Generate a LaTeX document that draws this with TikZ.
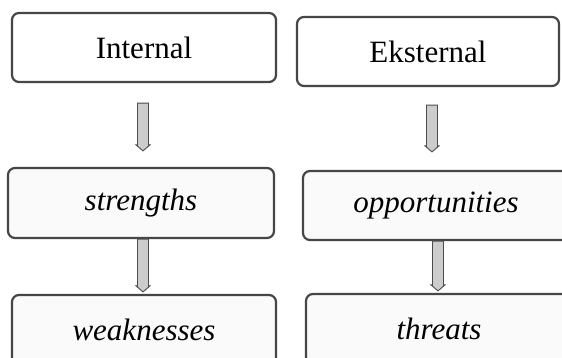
\documentclass[tikz,border=0pt]{standalone}
\usepackage{fontspec}
\setmainfont{Liberation Serif}
\usetikzlibrary{calc}

\tikzset{
  box/.style={draw=gray!55!black, line width=2.2pt, rounded corners=7pt, fill=white,
    font=\fontsize{31}{36}\selectfont, inner sep=0pt},
  subbox/.style={box, fill=gray!4, font=\fontsize{31}{36}\selectfont\itshape},
  blockarrow/.style={fill=gray!40, draw=gray!60!black, line width=0.9pt,
    to path={let \p1=(\tikztostart), \p2=(\tikztotarget) in
      (\x1-5.5pt,\y1) -- (\x1+5.5pt,\y1) -- (\x1+5.5pt,\y2+6pt) -- (\x1+7pt,\y2+6pt)
      -- (\x1,\y2) -- (\x1-7pt,\y2+6pt) -- (\x1-5.5pt,\y2+6pt) -- cycle}}
}

\begin{document}
\begin{tikzpicture}[x=1pt,y=-1pt]
\clip (0,0) rectangle (562,358);
\fill[white] (0,0) rectangle (562,358);
% top row
\node[box, minimum width=264pt, minimum height=69pt] (int) at (144,47.5) {Internal};
\node[box, minimum width=262pt, minimum height=69pt] (eks) at (428,51.5) {Eksternal};
% middle row
\node[subbox, minimum width=266pt, minimum height=70pt] (str) at (141,203) {strengths};
\node[subbox, minimum width=266pt, minimum height=69pt] (opp) at (436,205.5) {opportunities};
% bottom row
\node[subbox, minimum width=264pt, minimum height=70pt] (wea) at (144,330) {weaknesses};
\node[subbox, minimum width=266pt, minimum height=70pt] (thr) at (439,329) {threats};
% arrows
\draw[blockarrow] ([xshift=-1pt,yshift=-20pt]int.south) to ([yshift=16pt]str.north);
\draw[blockarrow] ([xshift=2pt]str.south) to ([yshift=2pt]wea.north);
\draw[blockarrow] ([xshift=4pt,yshift=-18pt]eks.south) to ([yshift=18pt]opp.north);
\draw[blockarrow] ([xshift=2pt]opp.south) to ([yshift=2pt]thr.north);
\end{tikzpicture}
\end{document}
